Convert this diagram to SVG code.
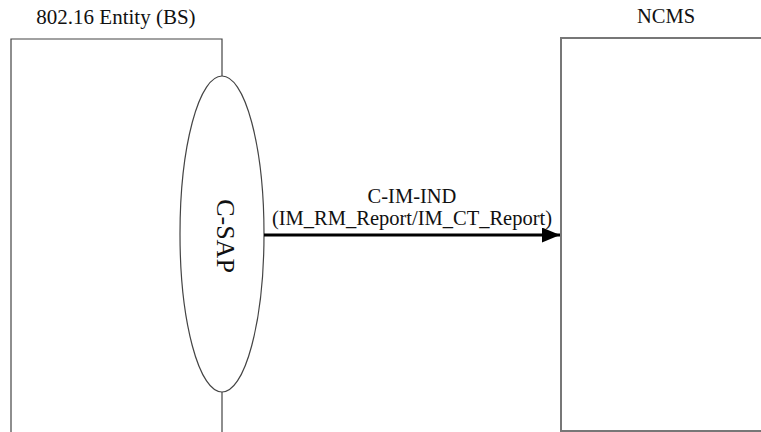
<svg xmlns="http://www.w3.org/2000/svg" width="761" height="432" viewBox="0 0 761 432">
<style>
.box{fill:none;stroke:#444;stroke-width:1.2}
.box2{fill:none;stroke:#777;stroke-width:2}
</style>
<defs>
<marker id="ah" markerWidth="6" markerHeight="5" refX="6" refY="2.5" orient="auto" markerUnits="strokeWidth">
<path d="M0,0 L6,2.5 L0,5 Z" fill="#000"/>
</marker>
</defs>
<rect width="761" height="432" fill="#fff"/>
<g font-family="'Liberation Serif', serif" fill="#111">
<g id="bs">
<path class="box" d="M11,432 V39 H222 V76 M222,392 V432"/>
<text x="116" y="24" font-size="21" text-anchor="middle" font-family="'Liberation Serif', serif">802.16 Entity (BS)</text>
</g>
<g id="csap">
<ellipse cx="222" cy="234" rx="42" ry="158" fill="#fff" stroke="#444" stroke-width="1.2"/>
<text transform="translate(217,236) rotate(90)" font-size="26" text-anchor="middle" font-family="'Liberation Serif', serif">C-SAP</text>
</g>
<g id="ncms">
<path class="box2" d="M561,432 V38 H762 M561,431 H762"/>
<text x="666" y="23" font-size="20.5" text-anchor="middle" font-family="'Liberation Serif', serif">NCMS</text>
</g>
<g id="connectors">
<line x1="264" y1="235" x2="560" y2="235" stroke="#000" stroke-width="3" marker-end="url(#ah)"/>
<text x="412" y="203" font-size="20.5" text-anchor="middle" font-family="'Liberation Serif', serif">C-IM-IND</text>
<text x="412" y="225" font-size="20.5" text-anchor="middle" font-family="'Liberation Serif', serif">(IM_RM_Report/IM_CT_Report)</text>
</g>
</g>
</svg>
